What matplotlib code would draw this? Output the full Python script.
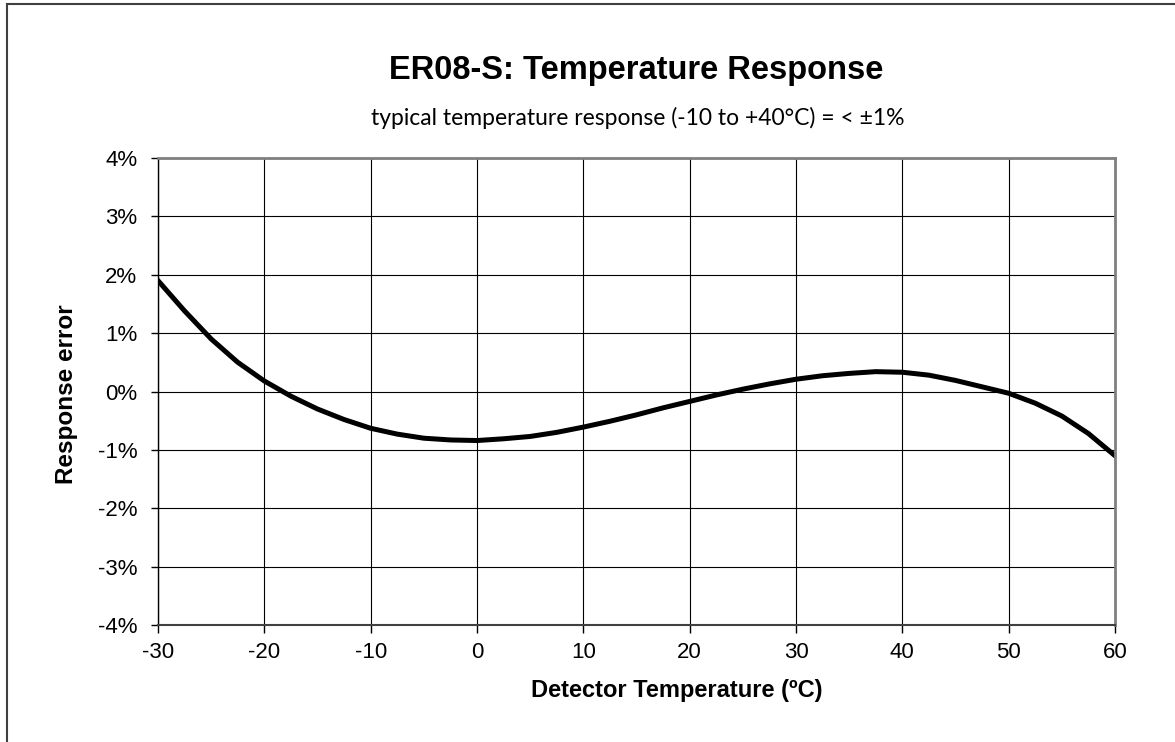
import matplotlib
matplotlib.use("Agg")
import matplotlib.pyplot as plt
from matplotlib.lines import Line2D
from matplotlib.ticker import FuncFormatter

plt.rcParams["axes.unicode_minus"] = False

temperature_c = [-30, -27.5, -25, -22.5, -20, -17.5, -15, -12.5, -10, -7.5, -5, -2.5,
                 0, 2.5, 5, 7.5, 10, 12.5, 15, 17.5, 20, 22.5, 25, 27.5, 30, 32.5,
                 35, 37.5, 40, 42.5, 45, 47.5, 50, 52.5, 55, 57.5, 60]
response_error_pct = [1.90, 1.38, 0.90, 0.50, 0.18, -0.08, -0.30, -0.48, -0.63, -0.73, -0.80, -0.83,
                      -0.84, -0.81, -0.77, -0.70, -0.61, -0.51, -0.40, -0.28, -0.17, -0.06, 0.04, 0.13,
                      0.21, 0.27, 0.31, 0.34, 0.33, 0.28, 0.19, 0.08, -0.03, -0.20, -0.42, -0.72, -1.10]
x_ticks = [-30, -20, -10, 0, 10, 20, 30, 40, 50, 60]
y_ticks = [-4, -3, -2, -1, 0, 1, 2, 3, 4]

title = "ER08-S: Temperature Response"
subtitle = "typical temperature response (-10 to +40°C) = < ±1%"
x_label = "Detector Temperature (ºC)"
y_label = "Response error"

W, H = 1175, 742
fig = plt.figure(figsize=(W / 100, H / 100), dpi=100)
fig.patch.set_facecolor("white")
ax = fig.add_axes([158 / W, 1 - 625 / H, (1115 - 158) / W, (625 - 158) / H])

ax.plot(temperature_c, response_error_pct, color="black", lw=3.6, solid_joinstyle="round")
ax.set_xlim(-30, 60)
ax.set_ylim(-4, 4)
ax.set_xticks(x_ticks)
ax.set_yticks(y_ticks)
ax.xaxis.set_major_formatter(FuncFormatter(lambda v, p: f"{int(round(v))}"))
ax.yaxis.set_major_formatter(FuncFormatter(lambda v, p: f"{int(round(v))}%"))
ax.grid(True, color="black", lw=0.8)
ax.set_axisbelow(True)

arial = ["Liberation Sans", "DejaVu Sans"]
for lbl in ax.get_xticklabels() + ax.get_yticklabels():
    lbl.set_fontfamily(arial)
    lbl.set_fontsize(16)
ax.tick_params(axis="x", direction="out", length=6, width=1, color="black", pad=6)
ax.tick_params(axis="y", direction="out", length=5, width=1, color="black", pad=10)

for side in ["top", "right"]:
    ax.spines[side].set_color("#808080")
    ax.spines[side].set_linewidth(2)
ax.spines["left"].set_color("black")
ax.spines["left"].set_linewidth(1)
ax.spines["bottom"].set_color("#404040")
ax.spines["bottom"].set_linewidth(1.5)

fig.text(677 / W, 1 - 690 / H, x_label, ha="center", va="center", fontsize=17,
         fontweight="bold", family=arial)
fig.text(66 / W, 1 - 394 / H, y_label, ha="center", va="center", rotation=90,
         fontsize=17.5, fontweight="bold", family=arial)

fig.text(636 / W, 1 - 70 / H, title, ha="center", va="center", fontsize=23.5,
         fontweight="bold", family=arial)
fig.text(638 / W, 1 - 118 / H, subtitle, ha="center", va="center", fontsize=16.5,
         family=["Lato", "DejaVu Sans"])

# outer chart frame (left and top edges visible)
fig.add_artist(Line2D([7 / W, 7 / W], [0, 1 - 4 / H], transform=fig.transFigure,
                      color="#404040", lw=1.5))
fig.add_artist(Line2D([7 / W, 1], [1 - 4 / H, 1 - 4 / H], transform=fig.transFigure,
                      color="#404040", lw=1.5))

fig.savefig("out.png", dpi=100, facecolor="white")
